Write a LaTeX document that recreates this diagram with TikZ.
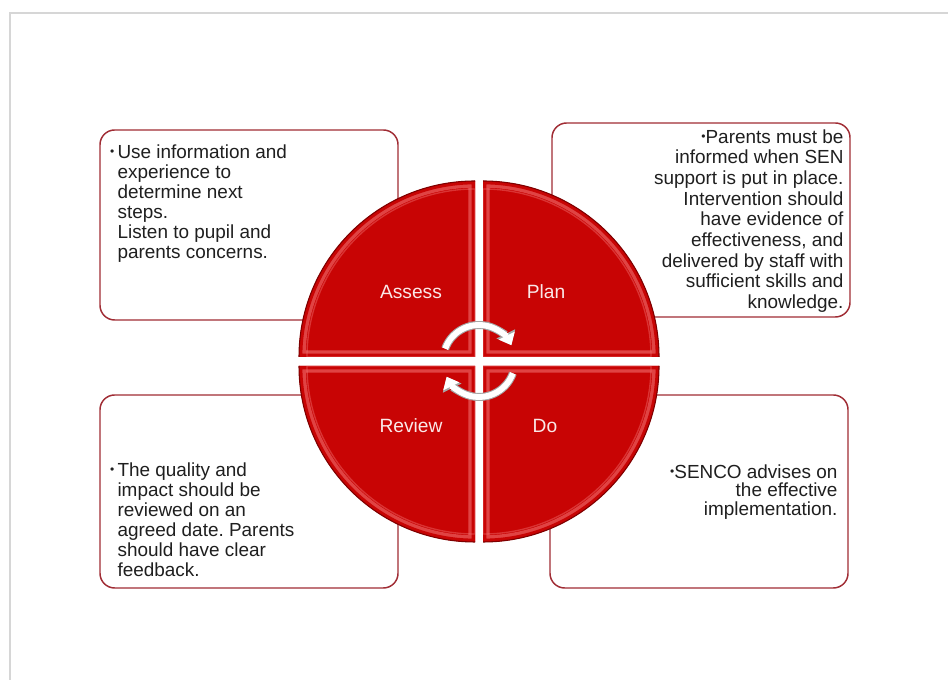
\documentclass[tikz,border=0pt]{standalone}
\usepackage{fontspec}
\setmainfont{Liberation Sans}
\usetikzlibrary{arrows.meta,positioning}
\definecolor{qred}{RGB}{200,4,4}
\definecolor{qlight}{RGB}{240,110,110}
\definecolor{qdark}{RGB}{125,0,0}
\definecolor{boxred}{RGB}{160,44,52}
\definecolor{seglabel}{RGB}{250,232,232}
\definecolor{framegray}{RGB}{214,214,214}
\newcommand{\dotb}{\raisebox{.3ex}{\fontsize{9}{9}\selectfont •}}
\frenchspacing

\begin{document}
\begin{tikzpicture}[x=0.75pt,y=0.75pt,
  infobox/.style={draw=boxred,line width=1.1pt,rounded corners=11pt,fill=white,minimum width=223.5pt,inner sep=0pt},
  boxtext/.style={font=\fontsize{14.2}{15}\selectfont,text=black!88,inner sep=0pt},
  seglabel/.style={font=\fontsize{14.4}{15}\selectfont,text=seglabel},
  turn/.style={line width=4.4pt,draw=white,-{Triangle[width=13pt,length=8pt]},
    preaction={draw=black!35,line width=6pt,-{Triangle[width=15pt,length=9.5pt]}}}
]
\useasboundingbox (0,0) rectangle (948,680);
\draw[framegray,line width=1pt] (10,0) -- (10,667) -- (948,667);
\node[infobox,minimum height=142.5pt] (assessbox) at (249,455) {};
\node[infobox,minimum height=145.5pt] (planbox) at (701,460) {};
\node[infobox,minimum height=144.75pt] (reviewbox) at (249,188.5) {};
\node[infobox,minimum height=144.75pt] (dobox) at (699,188.5) {};
\node[boxtext,anchor=north west,align=left] (assesstext) at ([shift={(18,-15)}]assessbox.north west) {\llap{\dotb\,}Use information and\\experience to\\determine next\\steps.\\Listen to pupil and\\parents concerns.};
\node[boxtext,anchor=north east,align=right,font=\fontsize{14.2}{15.5}\selectfont] (plantext) at ([shift={(-7,-7)}]planbox.north east) {\dotb Parents must be\\informed when SEN\\support is put in place.\\Intervention should\\have evidence of\\effectiveness, and\\delivered by staff with\\sufficient skills and\\knowledge.};
\node[boxtext,anchor=north west,align=left] (reviewtext) at ([shift={(18,-68)}]reviewbox.north west) {\llap{\dotb\,}The quality and\\impact should be\\reviewed on an\\agreed date. Parents\\should have clear\\feedback.};
\node[boxtext,anchor=north east,align=right,font=\fontsize{14.2}{13.8}\selectfont] (dotext) at ([shift={(-11,-70)}]dobox.north east) {\dotb SENCO advises on\\the effective\\implementation.};
\foreach \cx/\cy/\a in {475/323/180,483/323/90,483/314/0,475/314/270}{
  \begin{scope}
    \clip (\cx,\cy) -- ++(\a:176) arc[start angle=\a,delta angle=-90,radius=176] -- cycle;
    \fill[qred] (\cx,\cy) -- ++(\a:176) arc[start angle=\a,delta angle=-90,radius=176] -- cycle;
    \draw[qlight,opacity=.6,line width=10pt] (\cx,\cy) -- ++(\a:176) arc[start angle=\a,delta angle=-90,radius=176] -- cycle;
    \draw[qred,line width=5pt] (\cx,\cy) -- ++(\a:176) arc[start angle=\a,delta angle=-90,radius=176] -- cycle;
    \draw[qlight,opacity=.45,line width=1pt] (\cx,\cy) -- ++(\a:168) arc[start angle=\a,delta angle=-90,radius=168] -- cycle;
  \end{scope}
  \draw[qdark,line width=.8pt] (\cx,\cy) ++(\a:176) arc[start angle=\a,delta angle=-90,radius=176];
}
\node[seglabel] (assess) at (411,388) {Assess};
\node[seglabel] (plan) at (546,388) {Plan};
\node[seglabel] (review) at (411,254) {Review};
\node[seglabel] (do) at (545,254) {Do};
\coordinate (hub) at (479,319);
\draw[turn] ([shift={(160:36)}]hub) arc[start angle=160,end angle=26,radius=36];
\draw[turn] ([shift={(-20:36)}]hub) arc[start angle=-20,end angle=-154,radius=36];
\end{tikzpicture}
\end{document}
